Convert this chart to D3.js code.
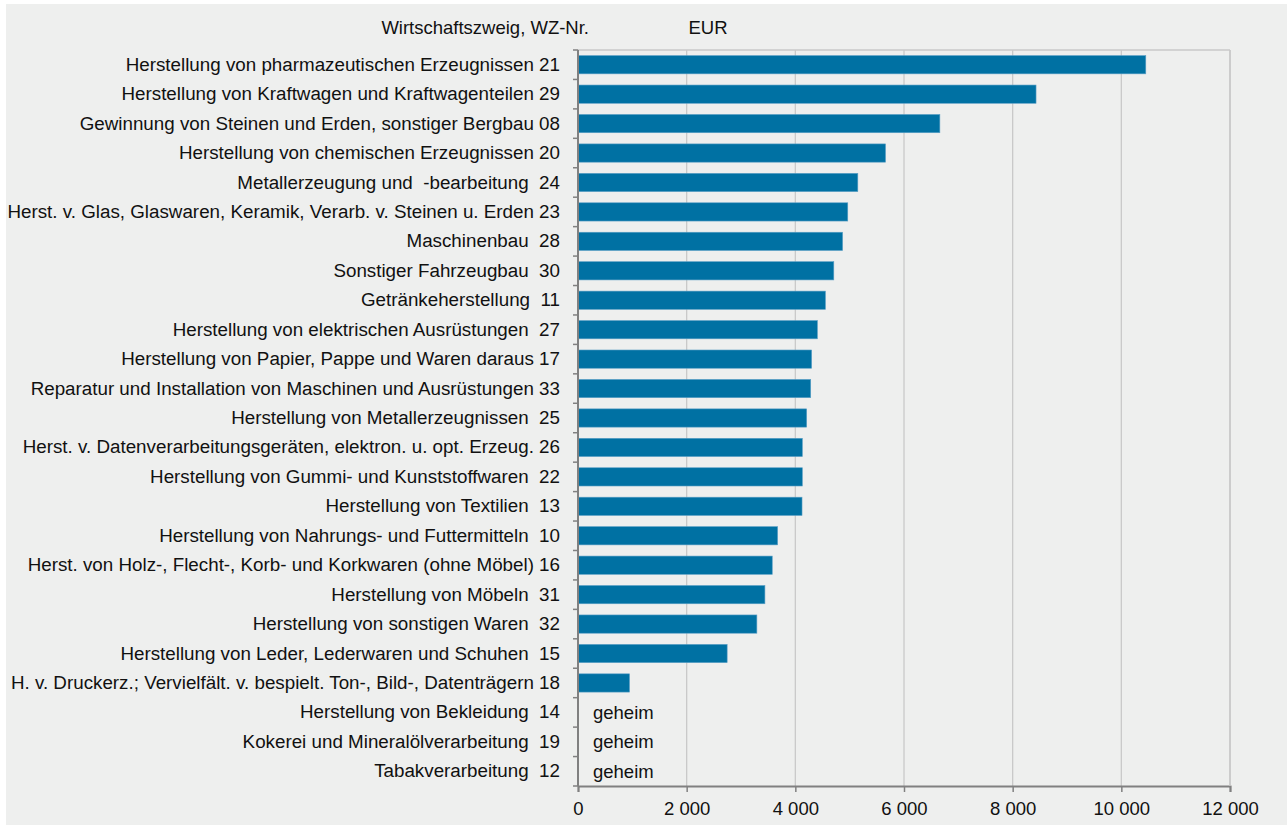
<!DOCTYPE html>
<html>
<head>
<meta charset="utf-8">
<script src="https://cdn.jsdelivr.net/npm/d3@7"></script>
<style>
  body { margin: 0; background: #fff; }
  svg { display: block; font-family: "Liberation Sans", Arial, sans-serif; }
  text { white-space: pre; }
</style>
</head>
<body>
<svg width="1287" height="825"></svg>
<script>
const width = 1287;
const height = 825;
const fontSize = 18.5;
const labelSize = 18.8;

// branch labels (WZ code appended), top to bottom
const categories = [
  "Herstellung von pharmazeutischen Erzeugnissen 21",
  "Herstellung von Kraftwagen und Kraftwagenteilen 29",
  "Gewinnung von Steinen und Erden, sonstiger Bergbau 08",
  "Herstellung von chemischen Erzeugnissen 20",
  "Metallerzeugung und  -bearbeitung  24",
  "Herst. v. Glas, Glaswaren, Keramik, Verarb. v. Steinen u. Erden 23",
  "Maschinenbau  28",
  "Sonstiger Fahrzeugbau  30",
  "Getränkeherstellung  11",
  "Herstellung von elektrischen Ausrüstungen  27",
  "Herstellung von Papier, Pappe und Waren daraus 17",
  "Reparatur und Installation von Maschinen und Ausrüstungen 33",
  "Herstellung von Metallerzeugnissen  25",
  "Herst. v. Datenverarbeitungsgeräten, elektron. u. opt. Erzeug. 26",
  "Herstellung von Gummi- und Kunststoffwaren  22",
  "Herstellung von Textilien  13",
  "Herstellung von Nahrungs- und Futtermitteln  10",
  "Herst. von Holz-, Flecht-, Korb- und Korkwaren (ohne Möbel) 16",
  "Herstellung von Möbeln  31",
  "Herstellung von sonstigen Waren  32",
  "Herstellung von Leder, Lederwaren und Schuhen  15",
  "H. v. Druckerz.; Vervielfält. v. bespielt. Ton-, Bild-, Datenträgern 18",
  "Herstellung von Bekleidung  14",
  "Kokerei und Mineralölverarbeitung  19",
  "Tabakverarbeitung  12"
];

// EUR, null = geheim
const values = [
  10450, 8430, 6660, 5660, 5150, 4965, 4870, 4708, 4554, 4406,
  4300, 4283, 4209, 4129, 4129, 4123, 3674, 3575, 3440, 3292,
  2745, 948, null, null, null
];

const xTicks = [0, 2000, 4000, 6000, 8000, 10000, 12000];

const margin = { top: 50, right: 57, bottom: 39, left: 578 };
const plotW = width - margin.left - margin.right;
const plotH = height - margin.top - margin.bottom;

const data = categories.map((c, i) => ({ cat: c, value: values[i] }));

const svg = d3.select("svg");

svg.append("rect")
    .attr("x", 6)
    .attr("y", 4)
    .attr("width", width - 6)
    .attr("height", height - 4)
    .attr("fill", "#eeefee");

const x = d3.scaleLinear()
    .domain([0, 12000])
    .range([0, plotW]);

const y = d3.scaleBand()
    .domain(categories)
    .range([0, plotH])
    .paddingInner(0.38)
    .paddingOuter(0.19);

const g = svg.append("g")
    .attr("transform", `translate(${margin.left},${margin.top})`);

// vertical gridlines
g.append("g")
    .attr("stroke", "#c9c9c9")
    .attr("stroke-width", 1.3)
  .selectAll("line")
  .data(xTicks.slice(1))
  .join("line")
    .attr("x1", d => x(d))
    .attr("x2", d => x(d))
    .attr("y1", 0)
    .attr("y2", plotH);

// plot border top
g.append("line")
    .attr("x1", 0)
    .attr("x2", plotW)
    .attr("y1", 0)
    .attr("y2", 0)
    .attr("stroke", "#c9c9c9")
    .attr("stroke-width", 1.5);

// bars
g.append("g")
  .selectAll("rect")
  .data(data.filter(d => d.value != null))
  .join("rect")
    .attr("x", 0)
    .attr("y", d => y(d.cat))
    .attr("width", d => x(d.value))
    .attr("height", y.bandwidth())
    .attr("fill", "#0071a3")
    .attr("stroke", "#5a9fc6")
    .attr("stroke-width", 0.6);

// geheim labels
g.append("g")
  .selectAll("text")
  .data(data.filter(d => d.value == null))
  .join("text")
    .attr("x", 15)
    .attr("y", d => y(d.cat) + y.bandwidth() / 2)
    .attr("dy", "0.35em")
    .attr("font-size", fontSize)
    .attr("fill", "#111")
    .text("geheim");

// y axis: labels
const yAxis = g.append("g")
    .call(d3.axisLeft(y).tickSize(0).tickPadding(18));
yAxis.select(".domain").remove();
yAxis.selectAll("text")
    .attr("font-size", labelSize)
    .attr("fill", "#111")
    .style("font-family", "'Liberation Sans', Arial, sans-serif");

// y axis: line and tick marks on band boundaries
const bounds = d3.range(categories.length + 1).map(i => i * plotH / categories.length);
g.append("g")
    .attr("stroke", "#808080")
    .attr("stroke-width", 1.5)
  .selectAll("line")
  .data(bounds)
  .join("line")
    .attr("x1", -5)
    .attr("x2", 0)
    .attr("y1", d => d)
    .attr("y2", d => d);
g.append("line")
    .attr("x1", 0)
    .attr("x2", 0)
    .attr("y1", 0)
    .attr("y2", plotH)
    .attr("stroke", "#808080")
    .attr("stroke-width", 2);

// x axis
const fmt = d => d3.format(",")(d).replace(/,/g, " ");
const xAxis = g.append("g")
    .attr("transform", `translate(0,${plotH})`)
    .call(d3.axisBottom(x).tickValues(xTicks).tickFormat(fmt).tickSize(6).tickPadding(10));
xAxis.select(".domain")
    .attr("stroke", "#808080")
    .attr("stroke-width", 2);
xAxis.selectAll(".tick line")
    .attr("stroke", "#808080")
    .attr("stroke-width", 1.5);
xAxis.selectAll("text")
    .attr("font-size", fontSize)
    .attr("fill", "#111")
    .style("font-family", "'Liberation Sans', Arial, sans-serif");

// right border of plot
g.append("line")
    .attr("x1", plotW)
    .attr("x2", plotW)
    .attr("y1", 0)
    .attr("y2", plotH)
    .attr("stroke", "#c9c9c9")
    .attr("stroke-width", 1.5);

// header
svg.append("text")
    .attr("x", 589)
    .attr("y", 34)
    .attr("text-anchor", "end")
    .attr("font-size", fontSize)
    .attr("fill", "#111")
    .text("Wirtschaftszweig, WZ-Nr.");

svg.append("text")
    .attr("x", 708)
    .attr("y", 34)
    .attr("text-anchor", "middle")
    .attr("font-size", fontSize)
    .attr("fill", "#111")
    .text("EUR");
</script>
</body>
</html>
